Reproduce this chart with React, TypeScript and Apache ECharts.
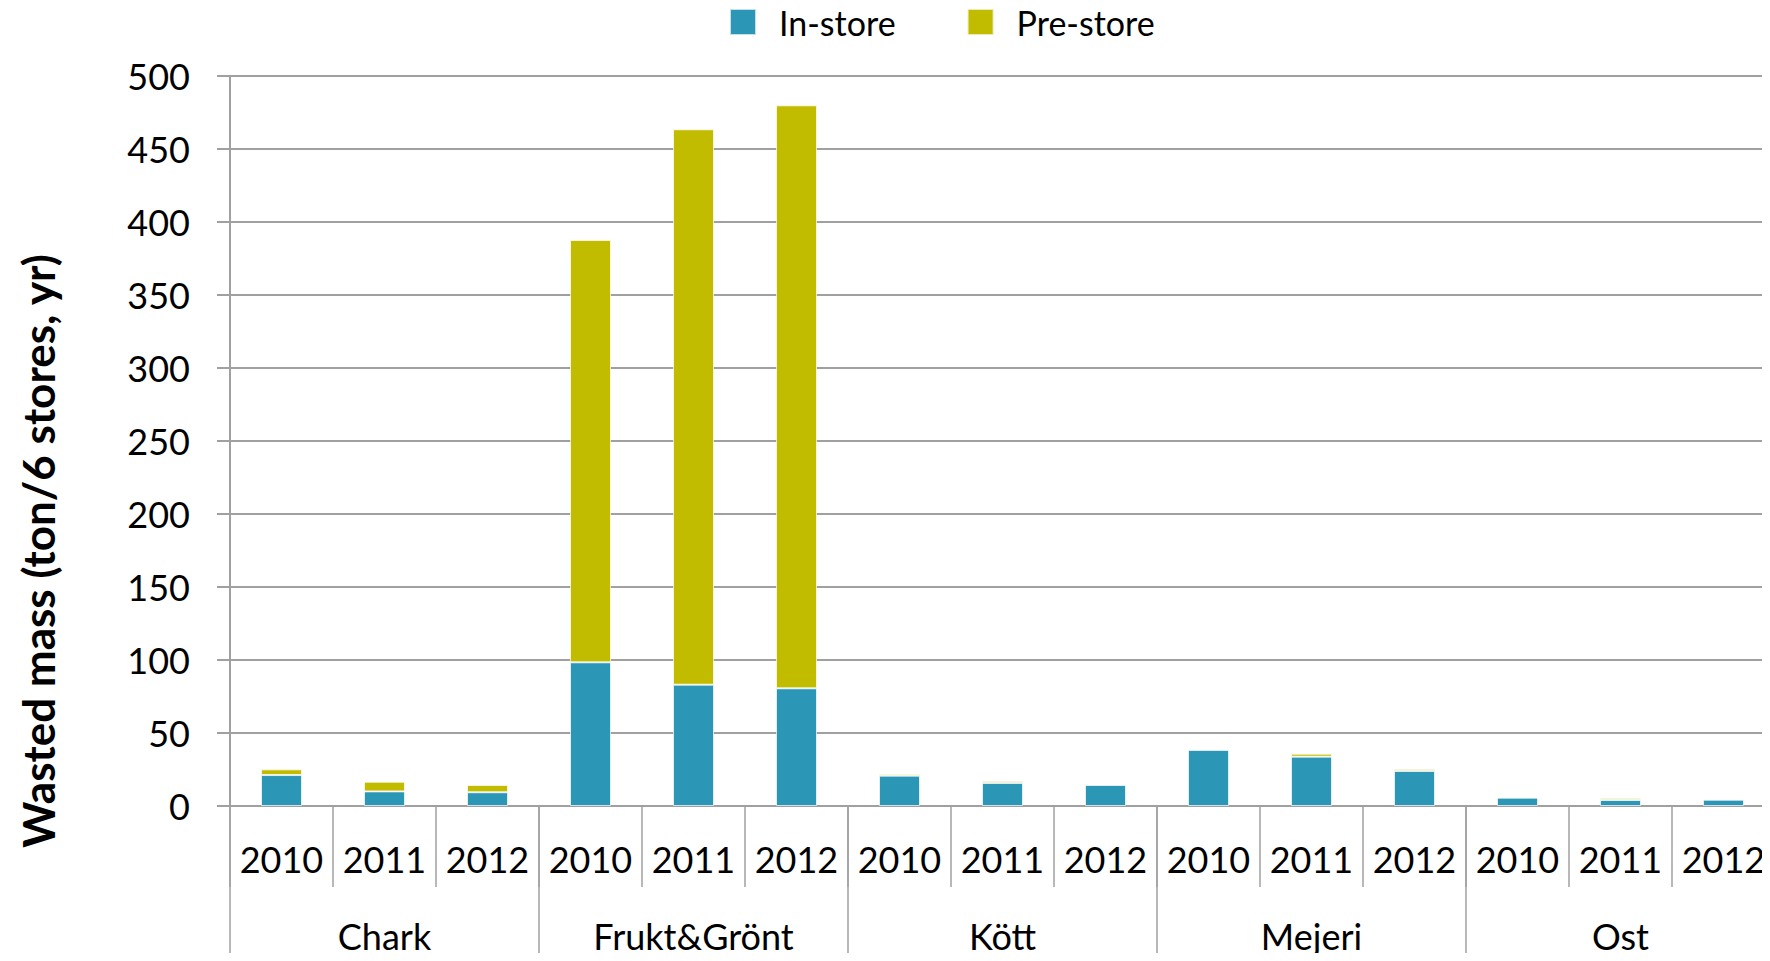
import React, { useEffect, useRef } from "react";
import * as echarts from "echarts";

const groups = ["Chark", "Frukt&Grönt", "Kött", "Mejeri", "Ost"];
const years = ["2010", "2011", "2012"];
const yearLabels = groups.flatMap(() => years);
const inStore = [21.2, 10.0, 9.4, 98.4, 83.1, 80.6, 20.8, 15.8, 14.4, 38.4, 33.8, 24.0, 5.7, 4.1, 4.3];
const preStore = [3.9, 6.6, 5.0, 289.3, 380.4, 399.3, 1.1, 1.3, 0.7, 0.6, 2.0, 1.3, 0.5, 1.4, 0.5];
const yTicks = { min: 0, max: 500, interval: 50 };
const yTitle = "Wasted mass (ton/6 stores, yr)";

const FONT = "Lato";
const GRAY = "#a0a0a0";

export default function App() {
  const ref = useRef<HTMLDivElement>(null);
  useEffect(() => {
    if (!ref.current) return;
    const chart = echarts.init(ref.current, null, { renderer: "svg" });
    chart.setOption({
      animation: false,
      textStyle: { fontFamily: FONT },
      legend: {
        left: 724,
        top: 0,
        itemWidth: 26,
        itemHeight: 26,
        itemGap: 71,
        icon: "rect",
        textStyle: { fontSize: 34, color: "#000", fontFamily: FONT, padding: [0, 0, 0, 18] },
        data: ["In-store", "Pre-store"],
      },
      grid: { left: 230, top: 76, bottom: 155, right: 0, containLabel: false },
      xAxis: [
        {
          type: "category",
          data: yearLabels,
          position: "bottom",
          axisLine: { show: true, lineStyle: { color: GRAY, width: 2 } },
          axisTick: { show: true, length: 81, interval: 0, lineStyle: { color: GRAY, width: 1.5 } },
          axisLabel: { interval: 0, fontSize: 36, color: "#000", fontFamily: FONT, margin: 35 },
        },
        {
          type: "category",
          data: groups,
          position: "bottom",
          axisLine: { show: false },
          axisTick: { show: true, length: 170, interval: 0, lineStyle: { color: GRAY, width: 1.5 } },
          axisLabel: { interval: 0, fontSize: 36, color: "#000", fontFamily: FONT, margin: 112 },
        },
      ],
      yAxis: {
        type: "value",
        min: yTicks.min,
        max: yTicks.max,
        interval: yTicks.interval,
        axisLine: { show: true, lineStyle: { color: GRAY, width: 2 } },
        axisTick: { show: true, length: 13, lineStyle: { color: GRAY, width: 2 } },
        axisLabel: { fontSize: 36, color: "#000", fontFamily: FONT, margin: 40 },
        splitLine: { show: true, lineStyle: { color: GRAY, width: 2 } },
      },
      graphic: [
        {
          type: "text",
          x: 38,
          y: 551,
          rotation: Math.PI / 2,
          style: {
            text: yTitle,
            font: `bold 44px ${FONT}`,
            fill: "#000",
            align: "center",
            verticalAlign: "middle",
          },
        },
      ],
      series: [
        {
          name: "In-store",
          type: "bar",
          stack: "total",
          barWidth: 41,
          data: inStore,
          itemStyle: { color: "#2C96B7", borderColor: "rgba(255,255,255,0.7)", borderWidth: 1 },
        },
        {
          name: "Pre-store",
          type: "bar",
          stack: "total",
          barWidth: 41,
          data: preStore,
          itemStyle: { color: "#C2BC00", borderColor: "rgba(255,255,255,0.7)", borderWidth: 1 },
        },
      ],
    });
    return () => chart.dispose();
  }, []);
  return (
    <div style={{ width: 1770, height: 961, margin: -8, overflow: "hidden", position: "relative" }}>
      <div ref={ref} style={{ width: 1775, height: 961 }} />
    </div>
  );
}
